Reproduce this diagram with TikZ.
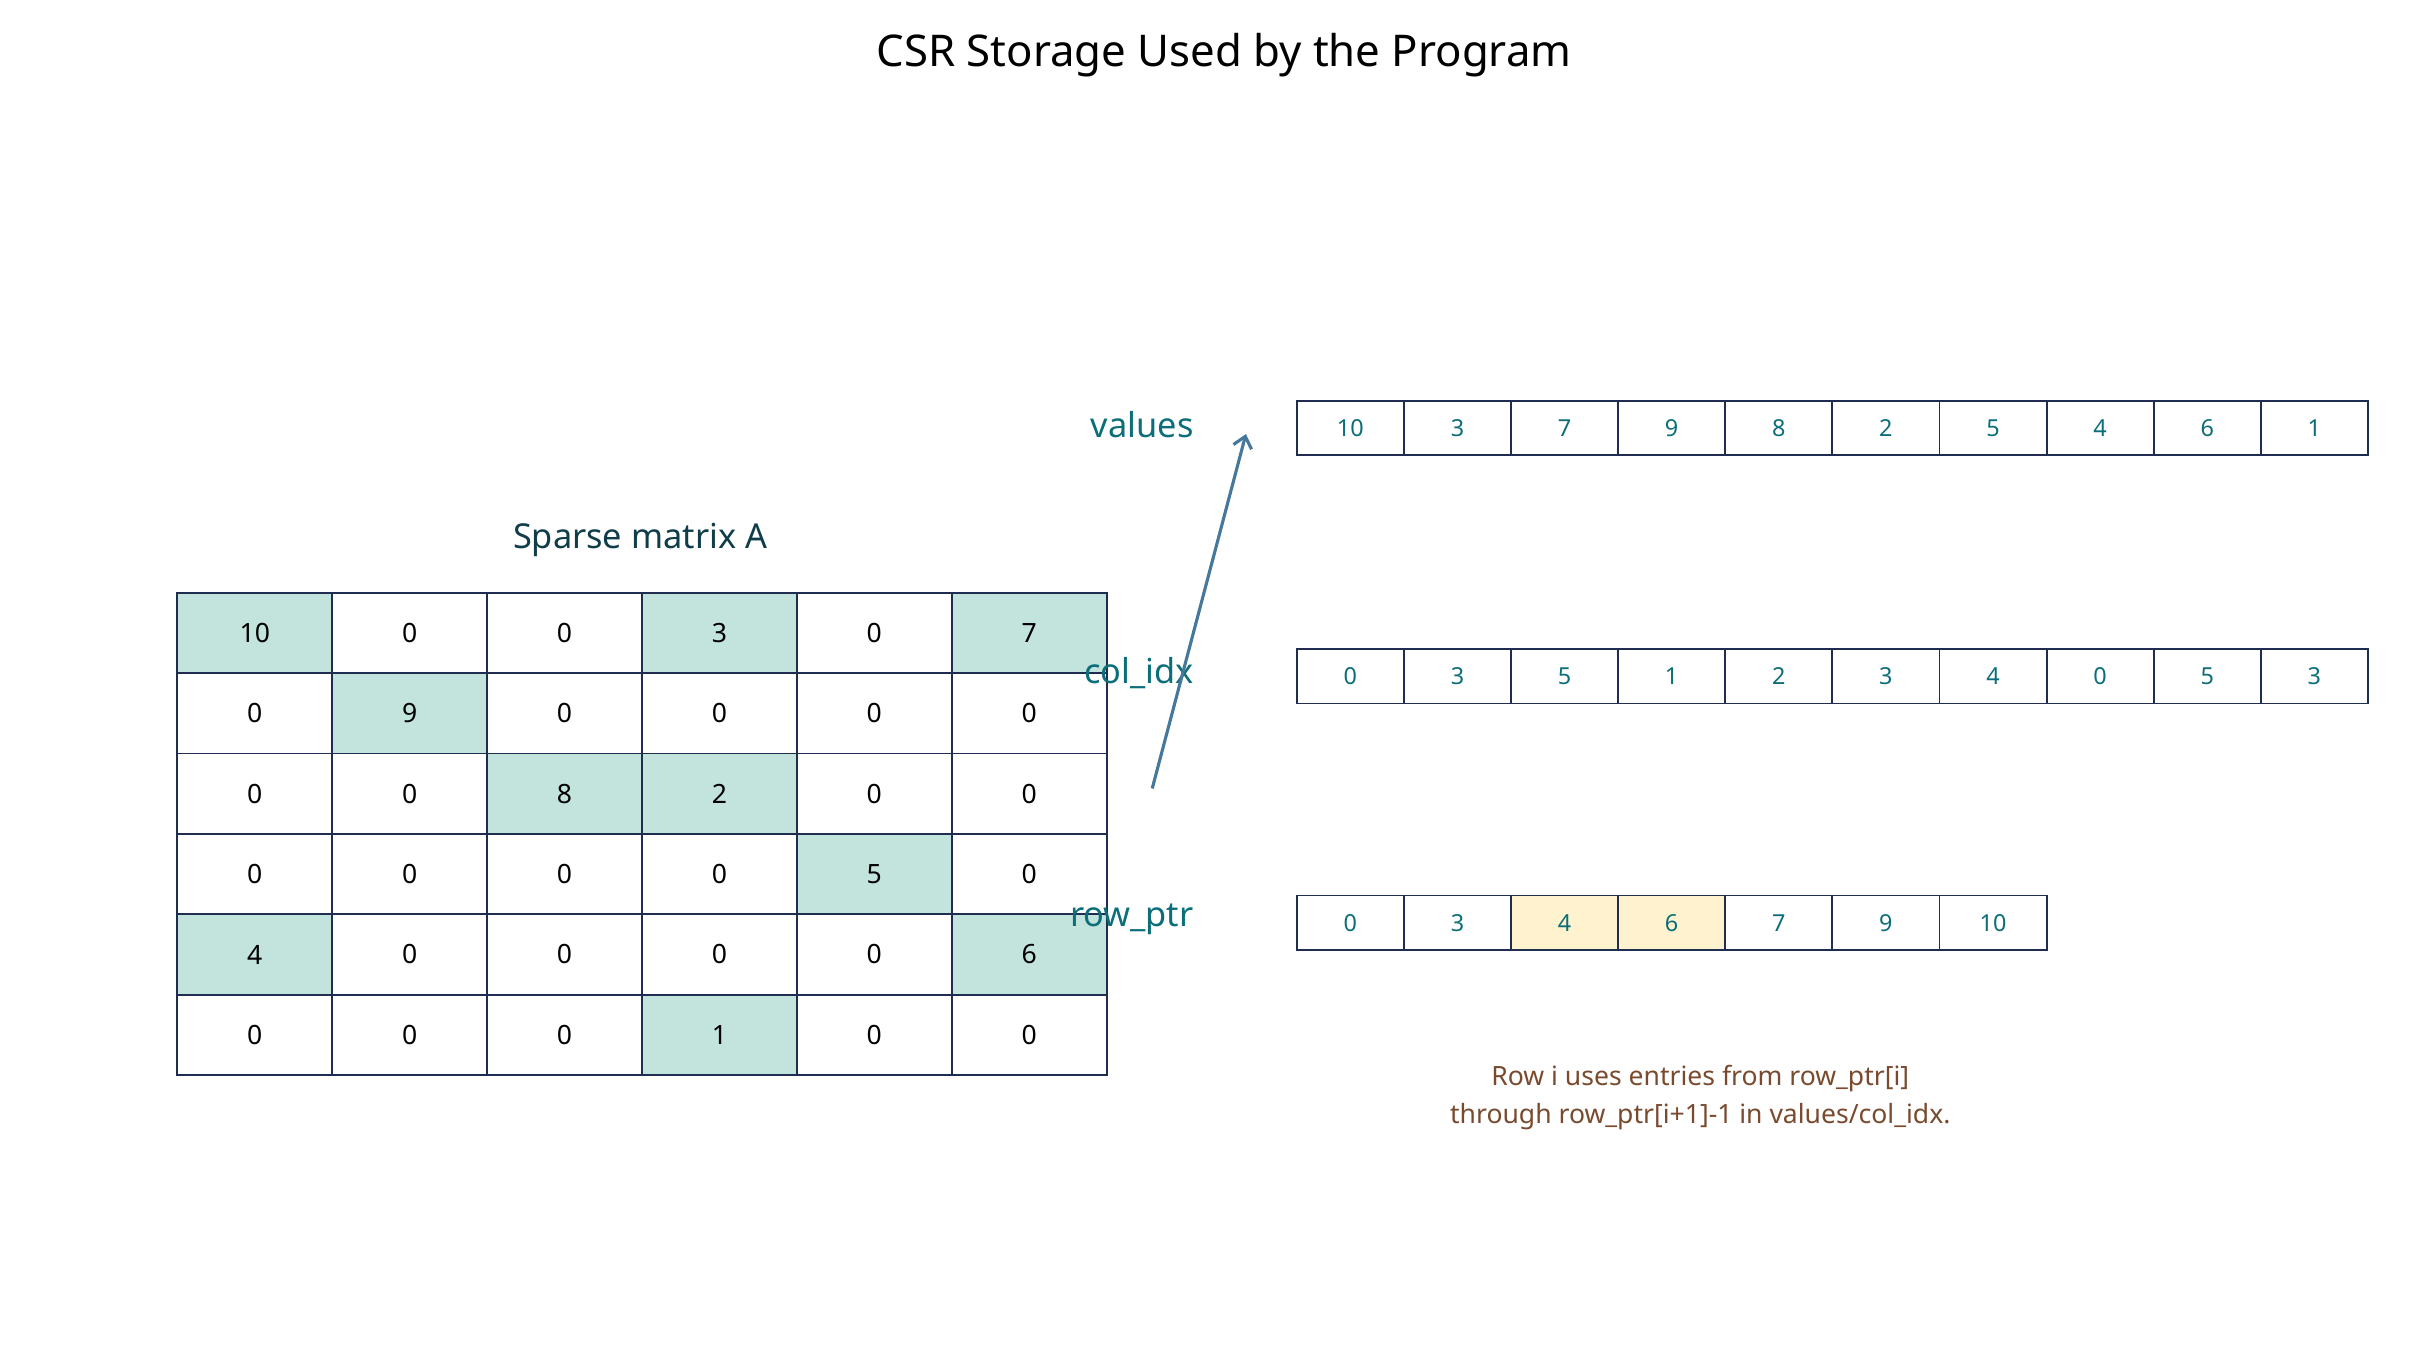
\documentclass[tikz,border=0pt]{standalone}
\usepackage{fontspec}
\usetikzlibrary{arrows.meta}
\setmainfont{Noto Sans}
\definecolor{bd}{HTML}{1F2D50}
\definecolor{hl}{HTML}{C2E4DC}
\definecolor{yl}{HTML}{FFF3CF}
\definecolor{tl}{HTML}{0B6E78}
\definecolor{dt}{HTML}{0F3D4A}
\definecolor{br}{HTML}{7A4A2E}
\definecolor{ar}{HTML}{45789A}
\begin{document}
\begin{tikzpicture}[x=1pt,y=-1pt,
 mc/.style={draw=bd,line width=1.2pt,minimum width=99.2pt,minimum height=51.5pt,anchor=north west,inner sep=0pt,font=\fontsize{17}{20}\selectfont},
 ac/.style={draw=bd,line width=1.2pt,minimum width=68.6pt,minimum height=35pt,anchor=north west,inner sep=0pt,text=tl,font=\fontsize{15}{18}\selectfont},
 lab/.style={anchor=east,text=tl,font=\fontsize{22}{26}\selectfont\bfseries}]
\useasboundingbox (0,0) rectangle (1550,874);
\node[font=\fontsize{28}{32}\selectfont\bfseries] (title) at (784,35) {CSR Storage Used by the Program};
\node[text=dt,font=\fontsize{22}{26}\selectfont\bfseries] (mt) at (410,346) {Sparse matrix A};
\foreach \r/\row in {0/{10,0,0,3,0,7},1/{0,9,0,0,0,0},2/{0,0,8,2,0,0},3/{0,0,0,0,5,0},4/{4,0,0,0,0,6},5/{0,0,0,1,0,0}}{
 \foreach \v [count=\c from 0] in \row {
  \ifnum\v=0
   \node[mc] (m\r\c) at (113+99.2*\c,379+51.5*\r) {\v};
  \else
   \node[mc,fill=hl] (m\r\c) at (113+99.2*\c,379+51.5*\r) {\v};
  \fi
 }}
\foreach \v [count=\c from 0] in {10,3,7,9,8,2,5,4,6,1}
 \node[ac] (v\c) at (830+68.6*\c,256) {\v};
\foreach \v [count=\c from 0] in {0,3,5,1,2,3,4,0,5,3}
 \node[ac] (ci\c) at (830+68.6*\c,415) {\v};
\foreach \v [count=\c from 0] in {0,3,4,6,7,9,10}{
 \ifnum\c=2 \node[ac,fill=yl] (rp\c) at (830+68.6*\c,573) {\v};
 \else\ifnum\c=3 \node[ac,fill=yl] (rp\c) at (830+68.6*\c,573) {\v};
 \else \node[ac] (rp\c) at (830+68.6*\c,573) {\v};\fi\fi}
\node[lab] (lv) at (768,272) {values};
\node[lab] (lc) at (768,431) {col\_idx};
\node[lab] (lr) at (768,589) {row\_ptr};
\coordinate (a0) at (738,505);
\coordinate (a1) at (798,278);
\draw[ar,line width=2pt,-{Straight Barb[length=7pt,width=12pt]}] (a0) -- (a1);
\node[text=br,align=center,font=\fontsize{17}{24}\selectfont] (note) at (1089,703) {Row i uses entries from row\_ptr[i]\\through row\_ptr[i+1]-1 in values/col\_idx.};
\end{tikzpicture}
\end{document}
